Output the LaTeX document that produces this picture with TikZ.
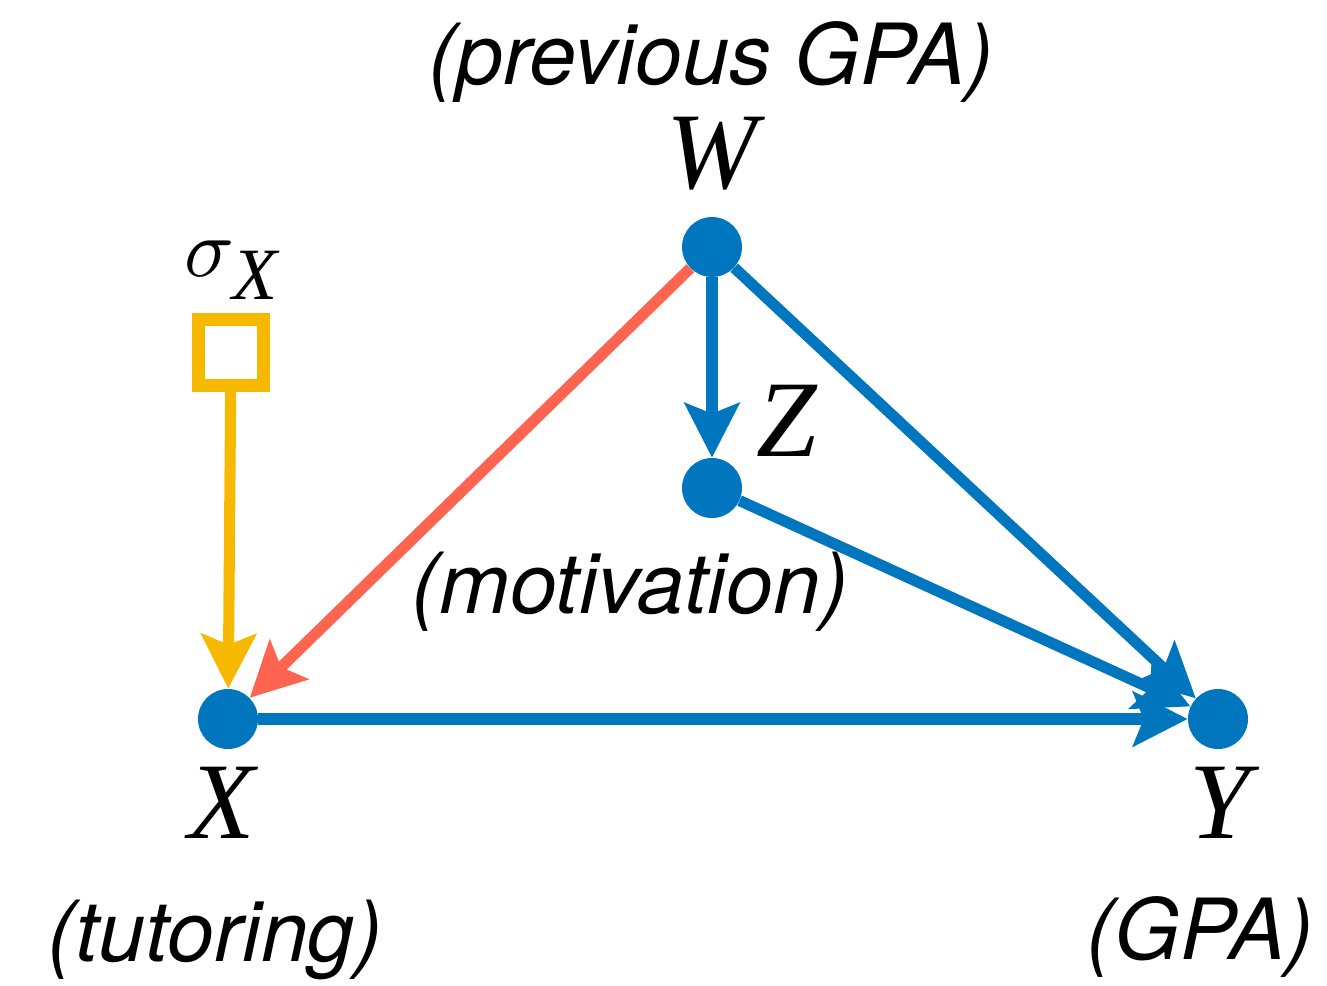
\documentclass[tikz,border=0pt]{standalone}
\usepackage{fontspec}
\usepackage{graphicx}
\setsansfont{TeX Gyre Heros}
\newfontfamily\tms{Liberation Serif}
\usetikzlibrary{arrows.meta}
\definecolor{cblue}{RGB}{0,118,190}
\definecolor{cred}{RGB}{255,100,80}
\definecolor{cyel}{RGB}{247,185,0}
\begin{document}
\begin{tikzpicture}[x=0.02cm,y=-0.02cm,
  dot/.style={circle,fill=cblue,inner sep=0,minimum size=1.2cm},
  edge/.style={line width=6.3pt,-{Stealth[length=31pt,width=31pt,inset=6pt]}},
  lab/.style={font=\sffamily\itshape\fontsize{48}{56}\selectfont, inner sep=0},
  var/.style={font=\tms\itshape\fontsize{62}{68}\selectfont, inner sep=0}]
\useasboundingbox (0,0) rectangle (1327,985);
% nodes
\node[dot] (W) at (712,247) {};
\node[dot] (Z) at (712,488) {};
\node[dot] (X) at (228,719) {};
\node[dot] (Y) at (1218,719) {};
\node[draw=cyel, line width=7.4pt, inner sep=0, minimum size=1.32cm] (S) at (231,352) {};
% labels
\node[lab] (lW) at (711,62) {(previous GPA)};
\node[var] (vW) at (712,154) {W};
\node[var] (vZ) at (787,421) {Z};
\node[var] (vX) at (222,803) {X};
\node[var] (vY) at (1220,803) {Y};
\node[inner sep=0] (vS) at (231,270) {\scalebox{4.7}{$\sigma$}\kern-1pt\raisebox{-13pt}{\tms\itshape\fontsize{42}{44}\selectfont X}};
\node[lab] (lZ) at (630,592) {(motivation)};
\node[lab] (lX) at (215,940) {(tutoring)};
\node[lab] (lY) at (1200,937) {(GPA)};
% edges
\draw[edge, cred] (W) -- (X);
\draw[edge, cblue] (W) -- (Z);
\draw[edge, cblue] (W) -- (Y);
\draw[edge, cblue] (Z) -- (Y);
\draw[edge, cblue] (X) -- (Y);
\draw[edge, cyel] (S) -- (X);
\end{tikzpicture}
\end{document}
